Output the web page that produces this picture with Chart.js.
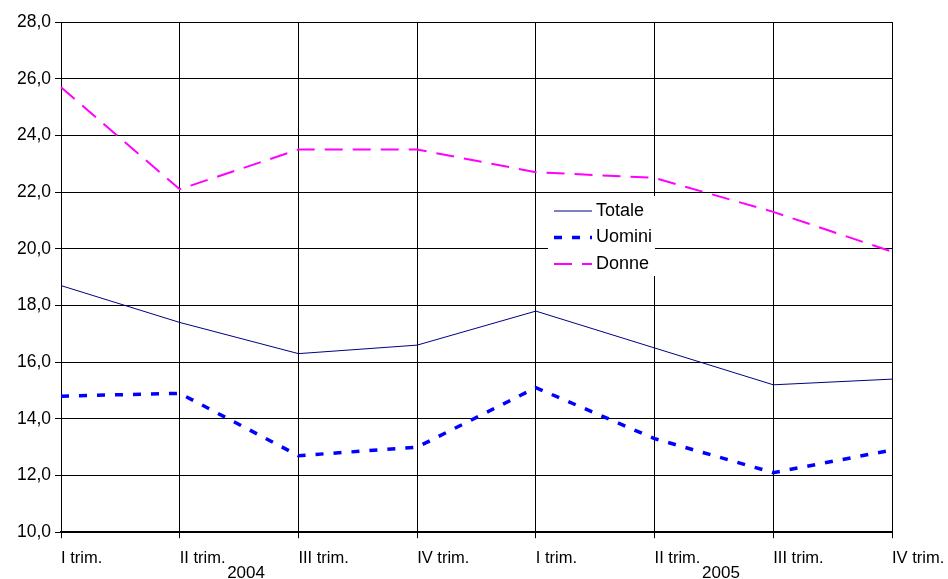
<!DOCTYPE html>
<html>
<head>
<meta charset="utf-8">
<script src="https://cdn.jsdelivr.net/npm/chart.js@4/dist/chart.umd.min.js"></script>
<style>
  html, body { margin: 0; padding: 0; background: #fff; }
  #wrap { width: 948px; height: 579px; }
</style>
</head>
<body>
<div id="wrap"><canvas id="chart" width="948" height="579"></canvas></div>
<script>
const quarters = ["I trim.", "II trim.", "III trim.", "IV trim.", "I trim.", "II trim.", "III trim.", "IV trim."];
const years = ["2004", "2005"];
const totale = [18.7, 17.4, 16.3, 16.6, 17.8, 16.5, 15.2, 15.4];
const uomini = [14.8, 14.9, 12.7, 13.0, 15.1, 13.3, 12.1, 12.9];
const donne = [25.7, 22.1, 23.5, 23.5, 22.7, 22.5, 21.3, 19.9];
const yTicks = [10, 12, 14, 16, 18, 20, 22, 24, 26, 28];

const fontFamily = "'Liberation Sans', Arial, sans-serif";

// year labels under each group of four quarters
const yearLabels = {
  id: "yearLabels",
  afterDraw(chart) {
    const ctx = chart.ctx;
    const x = chart.scales.x;
    ctx.save();
    ctx.font = "17px " + fontFamily;
    ctx.fillStyle = "#000";
    ctx.textAlign = "center";
    ctx.textBaseline = "alphabetic";
    years.forEach((y, i) => {
      const px = (x.getPixelForValue(i * 4 + 1) + x.getPixelForValue(i * 4 + 2)) / 2 + 7;
      ctx.fillText(y, px, 578);
    });
    ctx.restore();
  }
};

// legend box drawn inside the plot
const innerLegend = {
  id: "innerLegend",
  afterDatasetsDraw(chart) {
    const ctx = chart.ctx;
    const left = 548, top = 196, w = 107, h = 80;
    ctx.save();
    ctx.fillStyle = "#fff";
    ctx.fillRect(left, top, w, h);
    ctx.font = "18px " + fontFamily;
    ctx.textBaseline = "middle";
    chart.data.datasets.forEach((ds, i) => {
      const y = 211 + i * 26.5;
      ctx.strokeStyle = ds.borderColor;
      ctx.lineWidth = ds.borderWidth;
      ctx.setLineDash(ds.borderDash || []);
      ctx.beginPath();
      ctx.moveTo(554, y);
      ctx.lineTo(592, y);
      ctx.stroke();
      ctx.setLineDash([]);
      ctx.fillStyle = "#000";
      ctx.fillText(ds.label, 596, y);
    });
    ctx.restore();
  }
};

new Chart(document.getElementById("chart"), {
  type: "line",
  data: {
    labels: quarters,
    datasets: [
      { label: "Totale", data: totale, borderColor: "#000080", borderWidth: 1, pointRadius: 0, tension: 0 },
      { label: "Uomini", data: uomini, borderColor: "#0000ff", borderWidth: 3.5, borderDash: [8, 10], pointRadius: 0, tension: 0 },
      { label: "Donne", data: donne, borderColor: "#ff00ff", borderWidth: 2, borderDash: [18, 10], pointRadius: 0, tension: 0 }
    ]
  },
  options: {
    responsive: false,
    animation: false,
    layout: { padding: { top: 22, left: 0, right: 0, bottom: 1 } },
    plugins: { legend: { display: false }, tooltip: { enabled: false } },
    scales: {
      x: {
        offset: false,
        afterFit: s => { s.paddingRight = 56; },
        grid: { color: "#000", lineWidth: 1, drawTicks: true, tickLength: 6 },
        border: { color: "#000", width: 2 },
        ticks: {
          align: "start",
          maxRotation: 0,
          autoSkip: false,
          padding: 10,
          color: "#000",
          font: { size: 16.5, family: fontFamily }
        }
      },
      y: {
        min: 10,
        max: 28,
        afterBuildTicks: s => { s.ticks = yTicks.map(v => ({ value: v })); },
        afterFit: s => { s.width = 61; },
        grid: { color: "#000", lineWidth: 1, tickLength: 6 },
        border: { color: "#000", width: 1 },
        ticks: {
          color: "#000",
          padding: 4,
          font: { size: 17.5, family: fontFamily },
          callback: v => v.toFixed(1).replace(".", ",")
        }
      }
    }
  },
  plugins: [yearLabels, innerLegend]
});
</script>
</body>
</html>
